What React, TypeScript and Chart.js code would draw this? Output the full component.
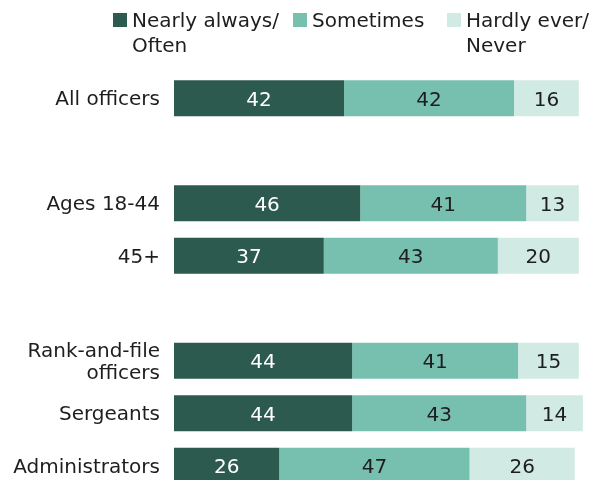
import React, { useEffect, useRef } from "react";
import { Chart, registerables } from "chart.js";

Chart.register(...registerables);

const categories: (string | string[])[] = [
  "All officers",
  "",
  "Ages 18-44",
  "45+",
  "",
  ["Rank-and-file", "officers"],
  "Sergeants",
  "Administrators",
];
const nearlyAlways = [42, null, 46, 37, null, 44, 44, 26];
const sometimes = [42, null, 41, 43, null, 41, 43, 47];
const hardlyEver = [16, null, 13, 20, null, 15, 14, 26];
const seriesNames = ["Nearly always/Often", "Sometimes", "Hardly ever/Never"];
const legendLines = [["Nearly always/", "Often"], ["Sometimes"], ["Hardly ever/", "Never"]];
const colors = ["#2c5a4e", "#77bfae", "#d1eae4"];
const labelColors = ["#ffffff", "#1e1e1e", "#1e1e1e"];

const FONT = "'DejaVu Sans', sans-serif";
const W = 598;
const H = 494;

const valueLabels = {
  id: "valueLabels",
  afterDatasetsDraw(chart: any) {
    const ctx = chart.ctx;
    ctx.save();
    ctx.font = `20px ${FONT}`;
    ctx.textAlign = "center";
    ctx.textBaseline = "alphabetic";
    chart.data.datasets.forEach((ds: any, i: number) => {
      const meta = chart.getDatasetMeta(i);
      meta.data.forEach((bar: any, j: number) => {
        const v = ds.data[j];
        if (v == null) return;
        const p = bar.getProps(["x", "y", "base"], true);
        ctx.fillStyle = labelColors[i];
        ctx.fillText(String(v), (p.x + p.base) / 2, p.y + 7.5);
      });
    });
    ctx.restore();
  },
};

const legendXs = [113, 293, 447];

const customLegend = {
  id: "customLegend",
  afterDraw(chart: any) {
    const ctx = chart.ctx;
    ctx.save();
    ctx.font = `20px ${FONT}`;
    ctx.textAlign = "left";
    ctx.textBaseline = "alphabetic";
    legendLines.forEach((lines, i) => {
      const x = legendXs[i];
      ctx.fillStyle = colors[i];
      ctx.fillRect(x, 13, 14, 14);
      ctx.fillStyle = "#1e1e1e";
      lines.forEach((line, k) => {
        ctx.fillText(line, x + 19, 27 + k * 25);
      });
    });
    ctx.restore();
  },
};

export default function App() {
  const ref = useRef<HTMLCanvasElement | null>(null);
  useEffect(() => {
    if (!ref.current) return;
    const chart = new Chart(ref.current, {
      type: "bar",
      data: {
        labels: categories as any,
        datasets: [nearlyAlways, sometimes, hardlyEver].map((d, i) => ({
          label: seriesNames[i],
          data: d as any,
          backgroundColor: colors[i],
          borderWidth: 0,
          barPercentage: 0.69,
          categoryPercentage: 1,
        })),
      },
      options: {
        indexAxis: "y",
        responsive: false,
        animation: false,
        layout: { padding: { top: 72, bottom: 2, left: 0, right: 3 } },
        plugins: {
          legend: { display: false },
          tooltip: { enabled: false },
        },
        scales: {
          x: { stacked: true, min: 0, max: 104, display: false },
          y: {
            stacked: true,
            grid: { display: false, drawTicks: false },
            border: { display: false },
            ticks: {
              padding: 14,
              labelOffset: 2,
              color: "#1e1e1e",
              font: { family: FONT, size: 20, lineHeight: 1.1 },
            },
            afterFit(scale: any) {
              scale.width = 174;
              scale.paddingTop = 0;
              scale.paddingBottom = 0;
            },
          },
        },
      },
      plugins: [valueLabels, customLegend],
    });
    return () => chart.destroy();
  }, []);
  return (
    <div style={{ position: "absolute", left: 0, top: 0, width: W, height: 480, overflow: "hidden", background: "#fff" }}>
      <canvas ref={ref} width={W} height={H} style={{ width: W, height: H, display: "block" }} />
    </div>
  );
}
